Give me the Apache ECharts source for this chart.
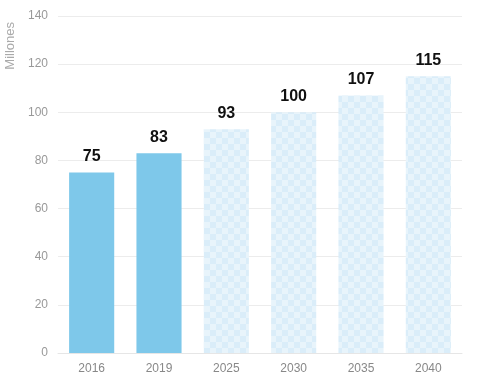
<!DOCTYPE html>
<html><head><meta charset="utf-8">
<script src="https://cdn.jsdelivr.net/npm/echarts@6/dist/echarts.min.js"></script>
<style>html,body{margin:0;padding:0;background:#fff}#c{width:480px;height:384px}</style>
</head><body><div id="c"></div>
<script>
const categories = ['2016','2019','2025','2030','2035','2040'];
const values = [75, 83, 93, 100, 107, 115];
const projected = [false, false, true, true, true, true];
const yTicks = [0, 20, 40, 60, 80, 100, 120, 140];

function makePattern(){
  const c = document.createElement('canvas');
  c.width = 12; c.height = 12;
  const g = c.getContext('2d');
  g.fillStyle = '#e8f4fb'; g.fillRect(0,0,12,12);
  g.fillStyle = '#daedf9';
  g.fillRect(0,0,6,6); g.fillRect(6,6,6,6);
  return c;
}
const pat = makePattern();

const chart = echarts.init(document.getElementById('c'), null, {renderer:'canvas'});
chart.setOption({
  animation:false,
  grid:{left:58, right:18, top:16, bottom:31},
  graphic:[{type:'text', x:10, y:22, rotation:Math.PI/2,
    style:{text:'Millones', fill:'#aaa', font:'13px "Liberation Sans", Arial, sans-serif',
      textAlign:'right', textVerticalAlign:'middle'}}],
  xAxis:{type:'category', data:categories,
    axisLine:{show:true, lineStyle:{color:'#e6e6e6'}}, axisTick:{show:false},
    axisLabel:{color:'#888', fontSize:12, margin:10, fontFamily:'"Liberation Sans", Arial, sans-serif'}},
  yAxis:{type:'value', min:yTicks[0], max:yTicks[yTicks.length-1], interval:20,
    axisLine:{show:false}, axisTick:{show:false},
    splitLine:{lineStyle:{color:'#ececec'}},
    axisLabel:{color:'#999', fontSize:12, margin:10, fontFamily:'"Liberation Sans", Arial, sans-serif'}},
  series:[{type:'bar', barCategoryGap:'33%',
    data: values.map((v,i)=>({value:v, itemStyle:{color: projected[i] ? {image:pat, repeat:'repeat'} : '#7ec8ea'}})),
    label:{show:true, position:'top', distance:8, color:'#111', fontWeight:'bold', fontSize:16,
      fontFamily:'"Liberation Sans", Arial, sans-serif'}
  }]
});
</script></body></html>
